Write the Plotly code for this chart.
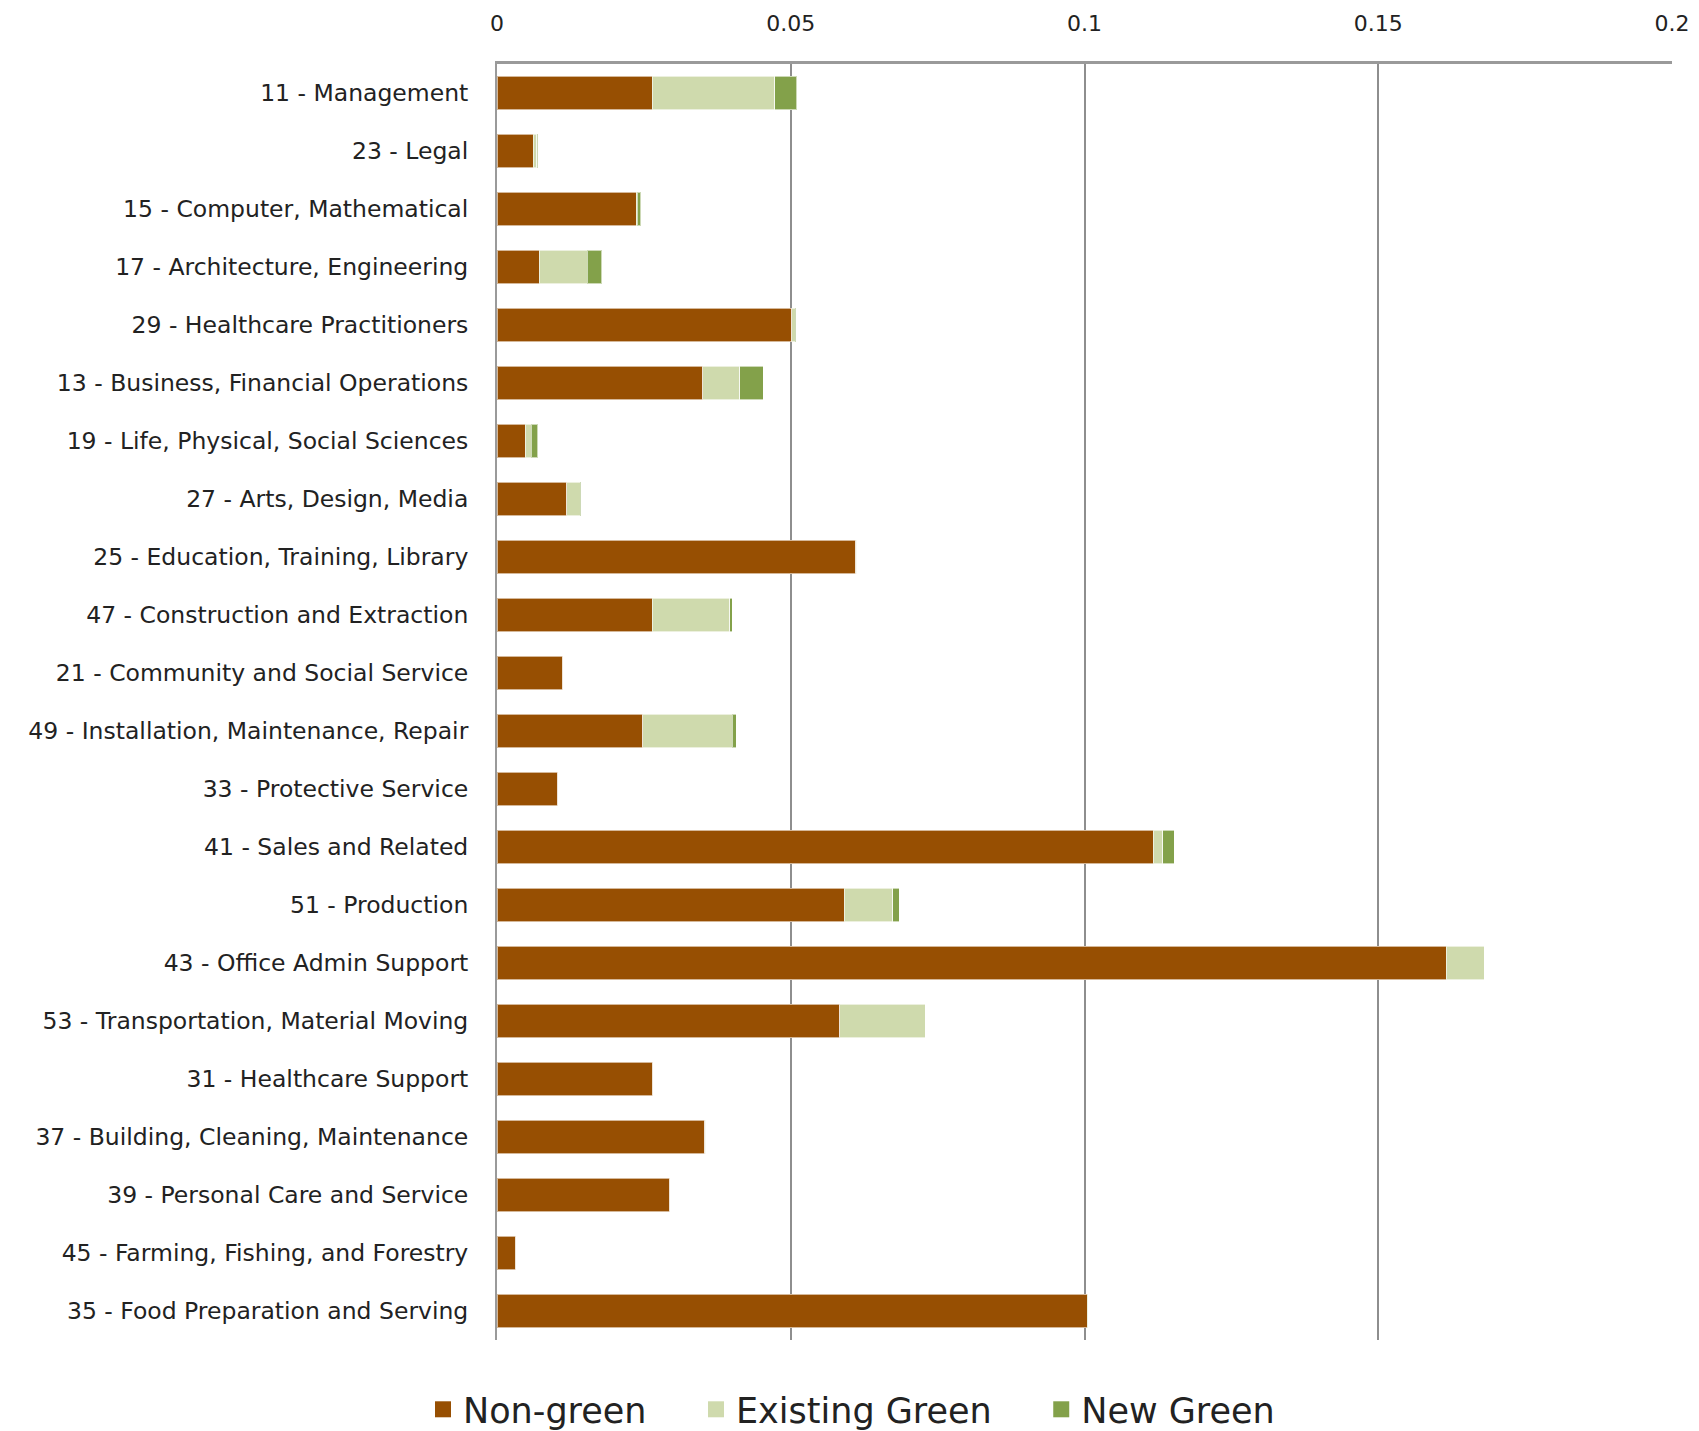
import plotly.graph_objects as go

# Occupation groups, listed top to bottom
occupations = [
    "11 - Management",
    "23 - Legal",
    "15 - Computer, Mathematical",
    "17 - Architecture, Engineering",
    "29 - Healthcare Practitioners",
    "13 - Business, Financial Operations",
    "19 - Life, Physical, Social Sciences",
    "27 - Arts, Design, Media",
    "25 - Education, Training, Library",
    "47 - Construction and Extraction",
    "21 - Community and Social Service",
    "49 - Installation, Maintenance, Repair",
    "33 - Protective Service",
    "41 - Sales and Related",
    "51 - Production",
    "43 - Office Admin Support",
    "53 - Transportation, Material Moving",
    "31 - Healthcare Support",
    "37 - Building, Cleaning, Maintenance",
    "39 - Personal Care and Service",
    "45 - Farming, Fishing, and Forestry",
    "35 - Food Preparation and Serving",
]

non_green = [0.0264, 0.0062, 0.0237, 0.0072, 0.0502, 0.0350, 0.0048, 0.0119,
             0.0611, 0.0264, 0.0112, 0.0248, 0.0103, 0.1117, 0.0591, 0.1616,
             0.0583, 0.0265, 0.0354, 0.0294, 0.0032, 0.1005]
existing_green = [0.0209, 0.0006, 0.0002, 0.0082, 0.0006, 0.0063, 0.0010, 0.0023,
                  0.0001, 0.0132, 0.0001, 0.0152, 0.0001, 0.0016, 0.0083, 0.0064,
                  0.0146, 0.0001, 0.0001, 0.0001, 0.0001, 0.0001]
new_green = [0.0037, 0.0001, 0.0006, 0.0024, 0.0001, 0.0040, 0.0011, 0.0001,
             0.0, 0.0004, 0.0, 0.0007, 0.0, 0.0020, 0.0011, 0.0,
             0.0, 0.0, 0.0, 0.0, 0.0, 0.0]

x_ticks = [0, 0.05, 0.1, 0.15, 0.2]
x_tick_text = ["0", "0.05", "0.1", "0.15", "0.2"]

FONT = "DejaVu Sans"
TEXT = "#222222"
PAD = "\u00a0" * 4  # extra room between legend entries

series = [
    ("Non-green", non_green, "#974F02"),
    ("Existing Green", existing_green, "#CFDAAD"),
    ("New Green", new_green, "#83A14A"),
]

fig = go.Figure()
for name, values, color in series:
    fig.add_trace(go.Bar(
        y=occupations, x=values, name=name, orientation="h",
        showlegend=False, legendgroup=name,
        marker=dict(color=color, line=dict(color="rgba(255,255,255,0.6)", width=1)),
    ))

# Square swatches for the legend
for i, (name, _, color) in enumerate(series):
    label = name if i == len(series) - 1 else name + PAD
    fig.add_trace(go.Scatter(
        x=[None], y=[None], mode="markers", name=label,
        legendgroup=name, showlegend=True,
        marker=dict(symbol="square", size=16, color=color),
    ))

fig.update_layout(
    width=1699, height=1431,
    barmode="stack", bargap=0.43,
    plot_bgcolor="white", paper_bgcolor="white",
    margin=dict(l=497, r=27, t=64, b=91, autoexpand=False),
    font=dict(family=FONT, color=TEXT),
    showlegend=True,
    legend=dict(
        orientation="h", xanchor="left", x=-0.063, yanchor="middle", y=-0.0545,
        font=dict(size=35, family=FONT, color=TEXT),
        traceorder="normal", itemwidth=30,
    ),
    xaxis=dict(
        side="top", range=[0, 0.2], tickvals=x_ticks, ticktext=x_tick_text,
        showgrid=True, gridcolor="#8E8E8E", gridwidth=2,
        showline=True, linecolor="#9A9A9A", linewidth=3,
        zeroline=False, ticks="", ticklabelstandoff=21,
        tickfont=dict(size=22, family=FONT, color=TEXT),
        fixedrange=True,
    ),
    yaxis=dict(
        type="category", categoryorder="array", categoryarray=occupations,
        range=[len(occupations) - 0.5, -0.5],
        showgrid=False, showline=True, linecolor="#9A9A9A", linewidth=2,
        ticks="", ticklabelstandoff=22,
        tickfont=dict(size=23.5, family=FONT, color=TEXT),
        fixedrange=True,
    ),
)

fig.write_html("out.html")
